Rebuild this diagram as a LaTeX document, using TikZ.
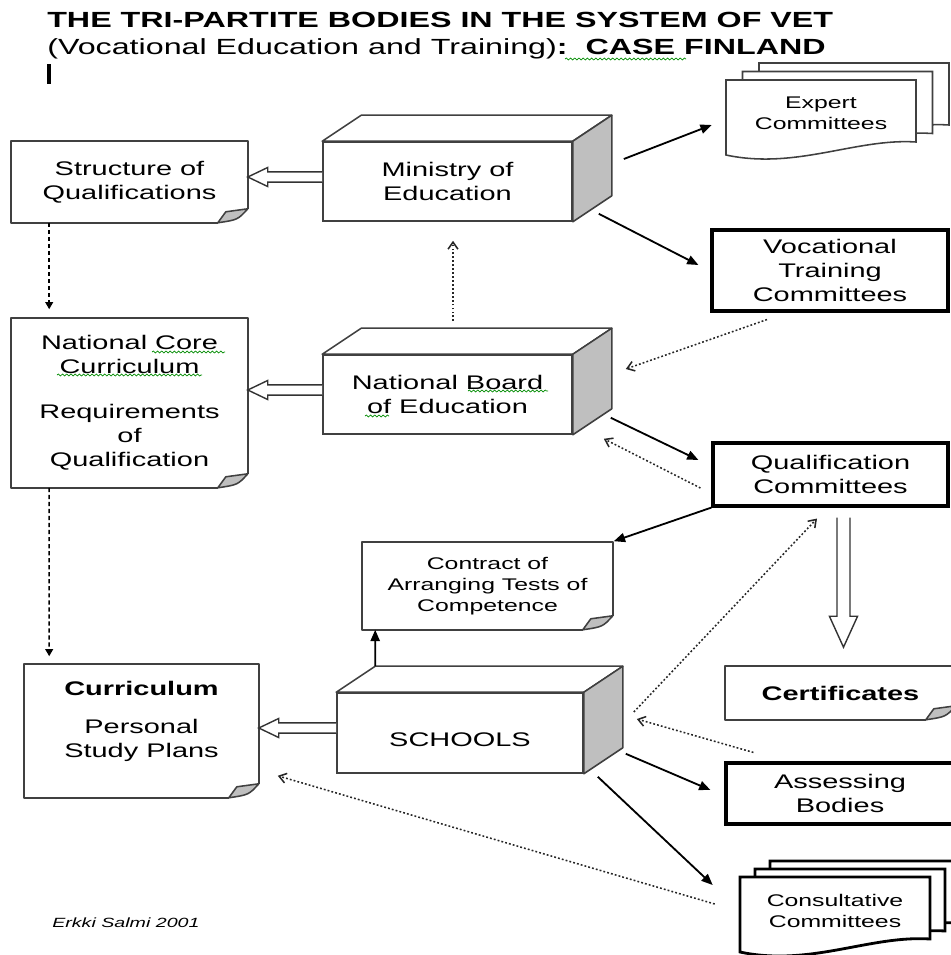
\documentclass[tikz,border=0pt]{standalone}
\usepackage{fontspec}
\setmainfont{Liberation Sans}[FakeStretch=1.47]
\usetikzlibrary{arrows.meta,calc,decorations.pathmorphing}

\tikzset{
  box/.style={draw=black!75, line width=1.1pt, fill=white, align=center, inner sep=0pt,
    font=\fontsize{14}{17}\selectfont},
  doc/.style={box, draw=none},
  thickbox/.style={box, draw=black, line width=2.2pt},
  smalltxt/.style={align=center, inner sep=0pt, font=\fontsize{12}{15}\selectfont},
  docline/.style={line width=1.1pt, draw=black!75, line join=round},
  solidarrow/.style={line width=1.3pt, -{Triangle[length=8pt,width=6.5pt]}},
  dashedarrow/.style={line width=1pt, dash pattern=on 3pt off 2pt, -{Triangle[length=5pt,width=5.5pt]}},
  dottedarrow/.style={line width=1.1pt, black!85, dash pattern=on 1.3pt off 1.5pt,
    -{Straight Barb[length=5pt,width=7pt]}},
  hollow/.style args={#1/#2/#3}{fill=white, line width=1pt, draw=black!80,
    to path={let \p1=(\tikztostart), \p2=(\tikztotarget),
      \n1={atan2(\y2-\y1,\x2-\x1)}, \n2={veclen(\x2-\x1,\y2-\y1)} in
      {[shift={(\p2)}, rotate=\n1] ({-\n2},#1) -- (-#3,#1) -- (-#3,#2) -- (0pt,0pt)
        -- (-#3,-#2) -- (-#3,-#1) -- ({-\n2},-#1)}}},
  squiggle/.style={green!55!black, line width=0.5pt, decorate,
    decoration={snake, amplitude=0.7pt, segment length=3pt}},
  pics/sheet/.style={code={
    \draw[fill=white] (0,0) -- (190,0) -- (190,62) .. controls (130,58) and (70,90) .. (0,75) -- cycle;
  }}
}

\begin{document}
\begin{tikzpicture}[x=0.025cm, y=-0.025cm]
\useasboundingbox (0,0) rectangle (951,955);

% heading
\node[anchor=base west, inner sep=0pt, font=\fontsize{15.6}{19}\selectfont\bfseries] (ttl) at (47,27.5)
  {THE TRI-PARTITE BODIES IN THE SYSTEM OF VET};
\node[anchor=base west, inner sep=0pt, font=\fontsize{15.6}{19}\selectfont] (sub) at (47,54)
  {(Vocational Education and Training)\textbf{:\ \ CASE FINLAND}};
\fill (47,64) rectangle (51,84);

% left column
\node[doc, minimum width=5.875cm, minimum height=2cm] (sq) at (129.5,182) {Structure of\\Qualifications};
\node[doc, minimum width=5.875cm, minimum height=4.2cm] (ncc) at (129.5,403)
  {National Core\\Curriculum\\[15pt]Requirements\\of\\Qualification};
\node[doc, minimum width=5.825cm, minimum height=3.3cm] (cur) at (141.5,731)
  {\textbf{Curriculum}\\[10pt]Personal\\Study Plans\\\mbox{}};

% middle column
\node[box, minimum width=6.225cm, minimum height=1.975cm] (min) at (447.5,181.5) {Ministry of\\Education};
\node[box, minimum width=6.225cm, minimum height=1.975cm] (nbe) at (447.5,394.5) {National Board\\of Education};
\node[box, minimum width=6.15cm, minimum height=2cm] (sch) at (460,733) {\rule{0pt}{20pt}SCHOOLS};
\node[doc, smalltxt, minimum width=6.225cm, minimum height=2.15cm] (con) at (487.5,586)
  {Contract of\\Arranging Tests of\\Competence};

% right column
\node[thickbox, minimum width=5.9cm, minimum height=2.025cm] (vtc) at (830,270.5) {Vocational\\Training\\Committees};
\node[thickbox, minimum width=5.875cm, minimum height=1.575cm] (qc) at (830.5,474.5) {Qualification\\Committees};
\node[doc, minimum width=5.725cm, minimum height=1.3cm] (cert) at (840.5,693) {\textbf{Certificates}};
\node[thickbox, minimum width=5.7cm, minimum height=1.525cm] (asb) at (840,793.5) {Assessing\\Bodies};

% stacked sheets
\coordinate (expnw) at (726,80);
\foreach \s in {2,1,0}
  \pic[line width=1.1pt, draw=black!75] at ([shift={(16.5*\s,-8.5*\s)}]expnw) {sheet};
\node[smalltxt, minimum width=4.75cm, minimum height=1.675cm] (exp) at ($(expnw)+(95,33.5)$) {Expert\\Committees};
\coordinate (consnw) at (740,877);
\foreach \s in {2,1,0}
  \pic[line width=2pt, draw=black] at ([shift={(15*\s,-8*\s)}]consnw) {sheet};
\node[smalltxt, minimum width=4.75cm, minimum height=1.7cm] (cons) at ($(consnw)+(95,34)$) {Consultative\\Committees};

% faces of the boxes
\foreach \b in {min,nbe,sch}{
  \draw[docline, fill=white] (\b.north west) -- ++(39,-26) -- ([shift={(39,-26)}]\b.north east)
    -- (\b.north east) -- cycle;
  \draw[docline, fill=black!25] (\b.north east) -- ++(39,-26) -- ([shift={(39,-26)}]\b.south east)
    -- (\b.south east) -- cycle;
}
% paper outlines with folded corner
\foreach \d in {sq,ncc,con,cur,cert}{
  \draw[docline] ([shift={(0,-14)}]\d.south east) -- (\d.north east) -- (\d.north west)
    -- (\d.south west) -- ([shift={(-30,0)}]\d.south east);
  \draw[docline, fill=black!25] ([shift={(-30,0)}]\d.south east) -- ([shift={(-22,-11)}]\d.south east)
    -- ([shift={(0,-14)}]\d.south east) .. controls ([shift={(-10,-3)}]\d.south east) .. ([shift={(-30,0)}]\d.south east);
}

% connectors
\draw[hollow=3.6pt/6.8pt/14.2pt] ([shift={(0,-4.5)}]min.west) to ([shift={(0,-5)}]sq.east);
\draw[hollow=3.6pt/6.8pt/14.2pt] ([shift={(0,-4.5)}]nbe.west) to ([shift={(0,-13)}]ncc.east);
\draw[hollow=3.6pt/6.8pt/14.2pt] ([shift={(0,-5)}]sch.west) to ([shift={(0,-3)}]cur.east);
\draw[hollow=4.6pt/10pt/22pt] ([shift={(13,10)}]qc.south) to ([shift={(3,-19)}]cert.north);

\draw[dashedarrow] ([shift={(38,0)}]sq.south west) -- ([shift={(38,-9)}]ncc.north west);
\draw[dashedarrow] ([shift={(38,0)}]ncc.south west) -- ([shift={(25,-8)}]cur.north west);

\draw[solidarrow] ([shift={(51,-22.5)}]min.east) -- ([shift={(-14,11.5)}]exp.west);
\draw[solidarrow] ([shift={(26,-8)}]min.south east) -- ([shift={(-12,-5.5)}]vtc.west);
\draw[solidarrow] ([shift={(38,-17)}]nbe.south east) -- ([shift={(-13,-14.5)}]qc.west);
\draw[solidarrow] (qc.south west) -- ([shift={(1,-1)}]con.north east);
\draw[solidarrow] ([shift={(39,-26)}]sch.north west) -- ([shift={(13,0)}]con.south west);
\draw[solidarrow] ([shift={(42,-20)}]sch.south east) -- ([shift={(-14,-3.5)}]asb.west);
\draw[solidarrow] ([shift={(14,3)}]sch.south east) -- ([shift={(-27,-26)}]cons.west);

\draw[dottedarrow] ([shift={(5.5,-33)}]nbe.north) -- ([shift={(5.5,19)}]min.south);
\draw[dottedarrow] ([shift={(-63,7)}]vtc.south) -- ([shift={(53,-25.5)}]nbe.east);
\draw[dottedarrow] ([shift={(-11,13.5)}]qc.west) -- ([shift={(31,4)}]nbe.south east);
\draw[dottedarrow] ([shift={(50,-21)}]sch.east) -- ([shift={(-13.5,11)}]qc.south);
\draw[dottedarrow] ([shift={(29,-9)}]asb.north west) -- ([shift={(53,-14)}]sch.east);
\draw[dottedarrow] ([shift={(-25,-7)}]cons.west) -- ([shift={(19,-22)}]cur.south east);

% spelling marks
\draw[squiggle] (565,59) -- (686,59);
\draw[squiggle] (152,352) -- (225,352);
\draw[squiggle] (57,375) -- (202,375);
\draw[squiggle] (468,391) -- (548,391);
\draw[squiggle] (365,416) -- (389,416);

\node[anchor=west, inner sep=0pt, font=\fontsize{9.5}{11}\selectfont\itshape] (sig) at (52,923) {Erkki Salmi 2001};
\end{tikzpicture}
\end{document}
